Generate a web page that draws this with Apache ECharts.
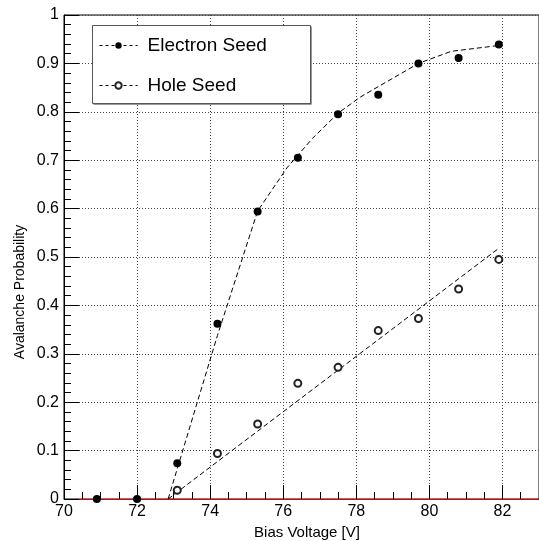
<!DOCTYPE html>
<html>
<head>
<meta charset="utf-8">
<script src="https://cdn.jsdelivr.net/npm/echarts@6/dist/echarts.min.js"></script>
<style>
  html, body { margin: 0; padding: 0; background: #fff; }
  #chart { width: 539px; height: 541px; }
</style>
</head>
<body>
<div id="chart"></div>
<script>
// measured points
const elecX = [70.9, 72.0, 73.1, 74.2, 75.3, 76.4, 77.5, 78.6, 79.7, 80.8, 81.9]
const elecY = [0, 0, 0.074, 0.362, 0.594, 0.705, 0.795, 0.835, 0.900, 0.911, 0.939]
const holeX = [73.1, 74.2, 75.3, 76.4, 77.5, 78.6, 79.7, 80.8, 81.9]
const holeY = [0.018, 0.094, 0.155, 0.239, 0.272, 0.348, 0.373, 0.434, 0.495]
// fit curves
const elecFitX = [72.85, 74.2, 75.3, 76.1, 76.8, 77.5, 78.1, 78.6, 79.2, 79.7, 80.6, 81.9]
const elecFitY = [0, 0.338, 0.595, 0.684, 0.745, 0.797, 0.830, 0.852, 0.878, 0.900, 0.925, 0.937]
const holeFitX = [72.85, 81.9]
const holeFitY = [0, 0.518]

const FONT = 'Liberation Sans'

function pairs(xs, ys) {
  return xs.map((x, i) => [x, ys[i]])
}

function initChart() {
  const chart = echarts.init(document.getElementById('chart'), null, { renderer: 'canvas' })
  const gridLine = { show: true, lineStyle: { color: '#444', type: [1, 2], width: 1 } }
  const option = {
    animation: false,
    backgroundColor: '#fff',
    textStyle: { fontFamily: FONT, color: '#000' },
    grid: { left: 64, right: -9, top: 15, bottom: 42, show: true, borderColor: '#000', borderWidth: 1 },
    xAxis: {
      type: 'value', min: 70, max: 83, interval: 2,
      axisLine: { show: true, onZero: false, lineStyle: { color: '#e00000', width: 1 } },
      axisTick: { show: true, inside: true, length: 14, lineStyle: { color: '#000' } },
      minorTick: { show: true, splitNumber: 4, length: 7, lineStyle: { color: '#000' } },
      axisLabel: { fontFamily: FONT, fontSize: 16, color: '#000', margin: 5, showMaxLabel: false },
      splitLine: gridLine
    },
    yAxis: {
      type: 'value', min: 0, max: 1, interval: 0.1,
      axisLine: { show: true, lineStyle: { color: '#000', width: 1 } },
      axisTick: { show: true, inside: true, length: 15, lineStyle: { color: '#000' } },
      minorTick: { show: true, splitNumber: 5, length: 7, lineStyle: { color: '#000' } },
      axisLabel: { fontFamily: FONT, fontSize: 16, color: '#000', margin: 5,
        formatter: v => (v === 0 || v === 1) ? String(v) : v.toFixed(1) },
      splitLine: gridLine
    },
    legend: {
      orient: 'vertical', left: 99, top: 36, padding: 0, itemGap: 21,
      itemWidth: 38, itemHeight: 8,
      data: ['Electron Seed', 'Hole Seed'],
      lineStyle: { color: '#000', width: 1, type: [3, 3], opacity: 1 },
      textStyle: { fontFamily: FONT, fontSize: 19, color: '#000', padding: [0, 0, 0, 5] }
    },
    graphic: [
      { type: 'rect', z: 3, shape: { x: 93.5, y: 26.5, width: 218, height: 78 }, style: { fill: '#333' } },
      { type: 'rect', z: 3, shape: { x: 92.5, y: 25.5, width: 218, height: 78 }, style: { fill: '#fff', stroke: '#555', lineWidth: 1 } },
      { type: 'text', z: 5, x: 307, y: 533, style: { text: 'Bias Voltage [V]', font: '15px "Liberation Sans"', fill: '#000', align: 'center', verticalAlign: 'middle' } },
      { type: 'text', z: 5, x: 20, y: 292, rotation: Math.PI / 2, style: { text: 'Avalanche Probability', font: '14px "Liberation Sans"', fill: '#000', align: 'center', verticalAlign: 'middle' } }
    ],
    series: [
      { name: 'Electron fit', type: 'line', data: pairs(elecFitX, elecFitY), showSymbol: false, silent: true,
        lineStyle: { color: '#000', width: 1, type: [5, 3] }, z: 2 },
      { name: 'Hole fit', type: 'line', data: pairs(holeFitX, holeFitY), showSymbol: false, silent: true,
        lineStyle: { color: '#000', width: 1, type: [5, 3] }, z: 2 },
      { name: 'Electron Seed', type: 'line', data: pairs(elecX, elecY), symbol: 'circle', symbolSize: 8,
        itemStyle: { color: '#000' }, lineStyle: { opacity: 0 }, z: 4 },
      { name: 'Hole Seed', type: 'line', data: pairs(holeX, holeY), symbol: 'emptyCircle', symbolSize: 7,
        itemStyle: { color: '#222', borderWidth: 0.8 }, lineStyle: { opacity: 0 }, z: 4 }
    ]
  }
  chart.setOption(option)
}

initChart()
</script>
</body>
</html>
